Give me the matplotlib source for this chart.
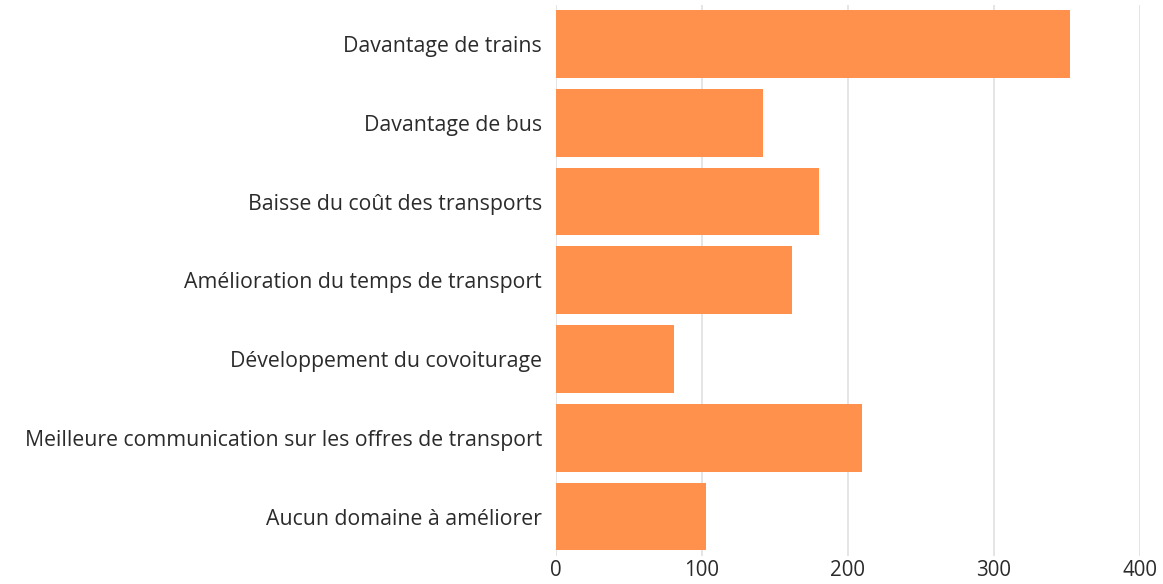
import matplotlib.pyplot as plt

categories = [
    "Davantage de trains",
    "Davantage de bus",
    "Baisse du coût des transports",
    "Amélioration du temps de transport",
    "Développement du covoiturage",
    "Meilleure communication sur les offres de transport",
    "Aucun domaine à améliorer",
]
values = [352, 142, 180, 162, 81, 210, 103]
xticks = [0, 100, 200, 300, 400]

plt.rcParams['font.family'] = ['Open Sans', 'DejaVu Sans']

fig = plt.figure(figsize=(11.63, 5.84), dpi=100)
ax = fig.add_axes([0.478, 0.048, 0.502, 0.944])

y = list(range(len(categories)))
ax.barh(y, values, height=0.86, color='#FF914D', zorder=2)
ax.set_yticks(y)
ax.set_yticklabels(categories, fontsize=15.3, color='#2b2b2b')
ax.set_ylim(len(categories) - 0.5, -0.5)
ax.set_xlim(0, 400)
ax.set_xticks(xticks)
ax.set_xticklabels([str(t) for t in xticks], fontsize=14.8, color='#2b2b2b')
ax.grid(axis='x', color='#e0e0e0', linewidth=1.2, zorder=0)
ax.tick_params(axis='y', length=0, pad=10)
ax.tick_params(axis='x', length=0, pad=3)
for s in ax.spines.values():
    s.set_visible(False)

fig.savefig('out.png', dpi=100)
